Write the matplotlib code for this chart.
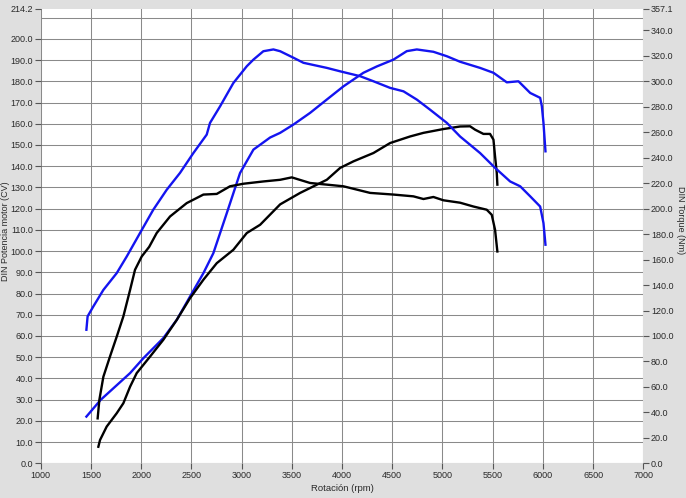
import matplotlib
matplotlib.use("Agg")
import matplotlib.pyplot as plt
import numpy as np

plt.rcParams['font.family'] = ['Liberation Sans', 'DejaVu Sans']

# Blue power curve (CV, left axis)
bp_rpm = [1455, 1597, 1890, 2022, 2221, 2355, 2487, 2620, 2719, 2853, 2985, 3118, 3284, 3384,
          3516, 3682, 3849, 4014, 4213, 4347, 4512, 4645, 4745, 4910, 5044, 5176, 5375, 5508,
          5641, 5757, 5874, 5973, 5990, 6006, 6026]
bp_cv = [22.0, 29.9, 42.5, 49.5, 59.0, 67.6, 78.6, 89.6, 99.0, 117.9, 136.8, 147.8, 153.5, 155.7,
         159.6, 165.1, 171.4, 177.6, 184.0, 187.0, 190.2, 194.2, 195.0, 193.9, 191.8, 189.2, 186.3, 184.0,
         179.5, 180.0, 174.5, 172.2, 168.2, 160.4, 147.0]

# Black power curve (CV, left axis)
kp_rpm = [1574, 1591, 1657, 1757, 1823, 1890, 1956, 2089, 2221, 2355, 2487, 2620, 2753, 2918,
          3052, 3185, 3384, 3583, 3849, 3982, 4115, 4313, 4479, 4678, 4811, 5010, 5176, 5275,
          5325, 5408, 5474, 5508, 5524, 5541, 5547]
kp_cv = [7.8, 11.0, 17.3, 23.6, 28.3, 36.1, 42.5, 50.3, 58.2, 67.6, 77.8, 86.5, 94.3, 100.6,
         108.5, 112.4, 122.0, 127.4, 133.6, 139.2, 142.3, 146.2, 150.9, 154.0, 155.7, 157.5, 158.7, 158.8,
         157.2, 155.2, 155.2, 152.5, 144.6, 136.8, 131.3]

# Blue torque curve (Nm, right axis)
bt_rpm = [1455, 1467, 1524, 1624, 1757, 1857, 1989, 2121, 2255, 2387, 2520, 2653, 2686, 2786,
          2918, 3052, 3118, 3217, 3317, 3384, 3516, 3616, 3849, 3982, 4180, 4313, 4479, 4612,
          4745, 4878, 5044, 5176, 5375, 5524, 5674, 5774, 5874, 5973, 6006, 6026]
bt_nm = [104.9, 115.4, 123.2, 136.2, 149.4, 162.5, 180.9, 199.2, 214.9, 228.1, 243.7, 258.2, 267.4, 280.4,
         298.7, 311.9, 317.1, 323.7, 325.1, 323.7, 318.6, 314.6, 310.6, 307.9, 304.1, 300.1, 294.9, 292.2,
         285.7, 277.7, 267.4, 256.7, 243.7, 232.1, 221.4, 217.6, 209.7, 201.7, 188.7, 171.7]

# Black torque curve (Nm, right axis)
kt_rpm = [1567, 1584, 1624, 1690, 1757, 1823, 1890, 1939, 2006, 2080, 2155, 2288, 2454, 2620,
          2753, 2885, 3018, 3217, 3384, 3500, 3682, 3849, 4014, 4280, 4512, 4711, 4811, 4910,
          5010, 5176, 5309, 5441, 5491, 5524, 5547]
kt_nm = [35.3, 49.8, 68.0, 83.9, 99.5, 115.4, 136.2, 152.0, 162.5, 170.0, 180.9, 193.9, 204.4, 211.1,
         211.6, 217.6, 219.6, 221.4, 222.7, 224.6, 220.2, 218.9, 217.6, 212.4, 211.1, 209.7, 207.6, 209.2,
         206.6, 204.7, 201.7, 199.2, 195.2, 183.4, 166.4]

x_ticks = [1000, 1500, 2000, 2500, 3000, 3500, 4000, 4500, 5000, 5500, 6000, 6500, 7000]
left_ticks = [0.0, 10.0, 20.0, 30.0, 40.0, 50.0, 60.0, 70.0, 80.0, 90.0, 100.0, 110.0, 120.0, 130.0,
              140.0, 150.0, 160.0, 170.0, 180.0, 190.0, 200.0, 214.2]
right_ticks = [0.0, 20.0, 40.0, 60.0, 80.0, 100.0, 120.0, 140.0, 160.0, 180.0, 200.0, 220.0, 240.0,
               260.0, 280.0, 300.0, 320.0, 340.0, 357.1]
hgrid = [0, 10, 20, 30, 40, 50, 60, 70, 80, 90, 100, 110, 120, 130, 140, 150, 160, 170, 180, 190, 200, 210]

BG = '#dfdfdf'
GRID = '#8a8a8a'
TXT = '#2a2a2a'
BLUE = '#1414f0'
LW = 1.7

fig = plt.figure(figsize=(6.86, 4.98), dpi=100, facecolor=BG)
ax = fig.add_axes([40.7/686, 1 - 463.3/498, (643.3-40.7)/686, (463.3-8.7)/498])
ax.set_facecolor('white')
ax.set_xlim(1000, 7000)
ax.set_ylim(0, 214.2)

for v in hgrid:
    ax.axhline(v, color=GRID, lw=0.75, zorder=0)
ax.set_xticks(x_ticks)
ax.set_xticklabels([str(t) for t in x_ticks])
ax.xaxis.grid(True, color=GRID, lw=0.75, zorder=0)
ax.set_axisbelow(True)
ax.set_yticks(left_ticks)
ax.set_yticklabels([f"{t:.1f}" for t in left_ticks])
for s in ax.spines.values():
    s.set_visible(False)
ax.tick_params(axis='both', direction='out', length=4, width=0.8, color='#555555',
               labelsize=6.5, labelcolor=TXT, pad=1.5)

ax.plot(bp_rpm, bp_cv, color=BLUE, lw=LW, zorder=3)
ax.plot(kp_rpm, kp_cv, color='black', lw=LW, zorder=3)

ax2 = ax.twinx()
ax2.set_ylim(0, 357.1)
ax2.set_yticks(right_ticks)
ax2.set_yticklabels([f"{t:.1f}" for t in right_ticks])
for s in ax2.spines.values():
    s.set_visible(False)
ax2.tick_params(axis='y', direction='out', length=4, width=0.8, color='#555555',
                labelsize=6.5, labelcolor=TXT, pad=1.5)
ax2.plot(bt_rpm, bt_nm, color=BLUE, lw=LW, zorder=3)
ax2.plot(kt_rpm, kt_nm, color='black', lw=LW, zorder=3)

ax.set_xlabel('Rotación (rpm)', fontsize=6.8, color=TXT, labelpad=3)
fig.text(5.5/686, 1 - 231/498, 'DIN Potencia motor (CV)', fontsize=6.5, color=TXT,
         rotation=90, ha='center', va='center')
fig.text(680.5/686, 1 - 220/498, 'DIN Torque (Nm)', fontsize=6.5, color=TXT,
         rotation=270, ha='center', va='center')

fig.savefig('out.png', dpi=100, facecolor=BG)
